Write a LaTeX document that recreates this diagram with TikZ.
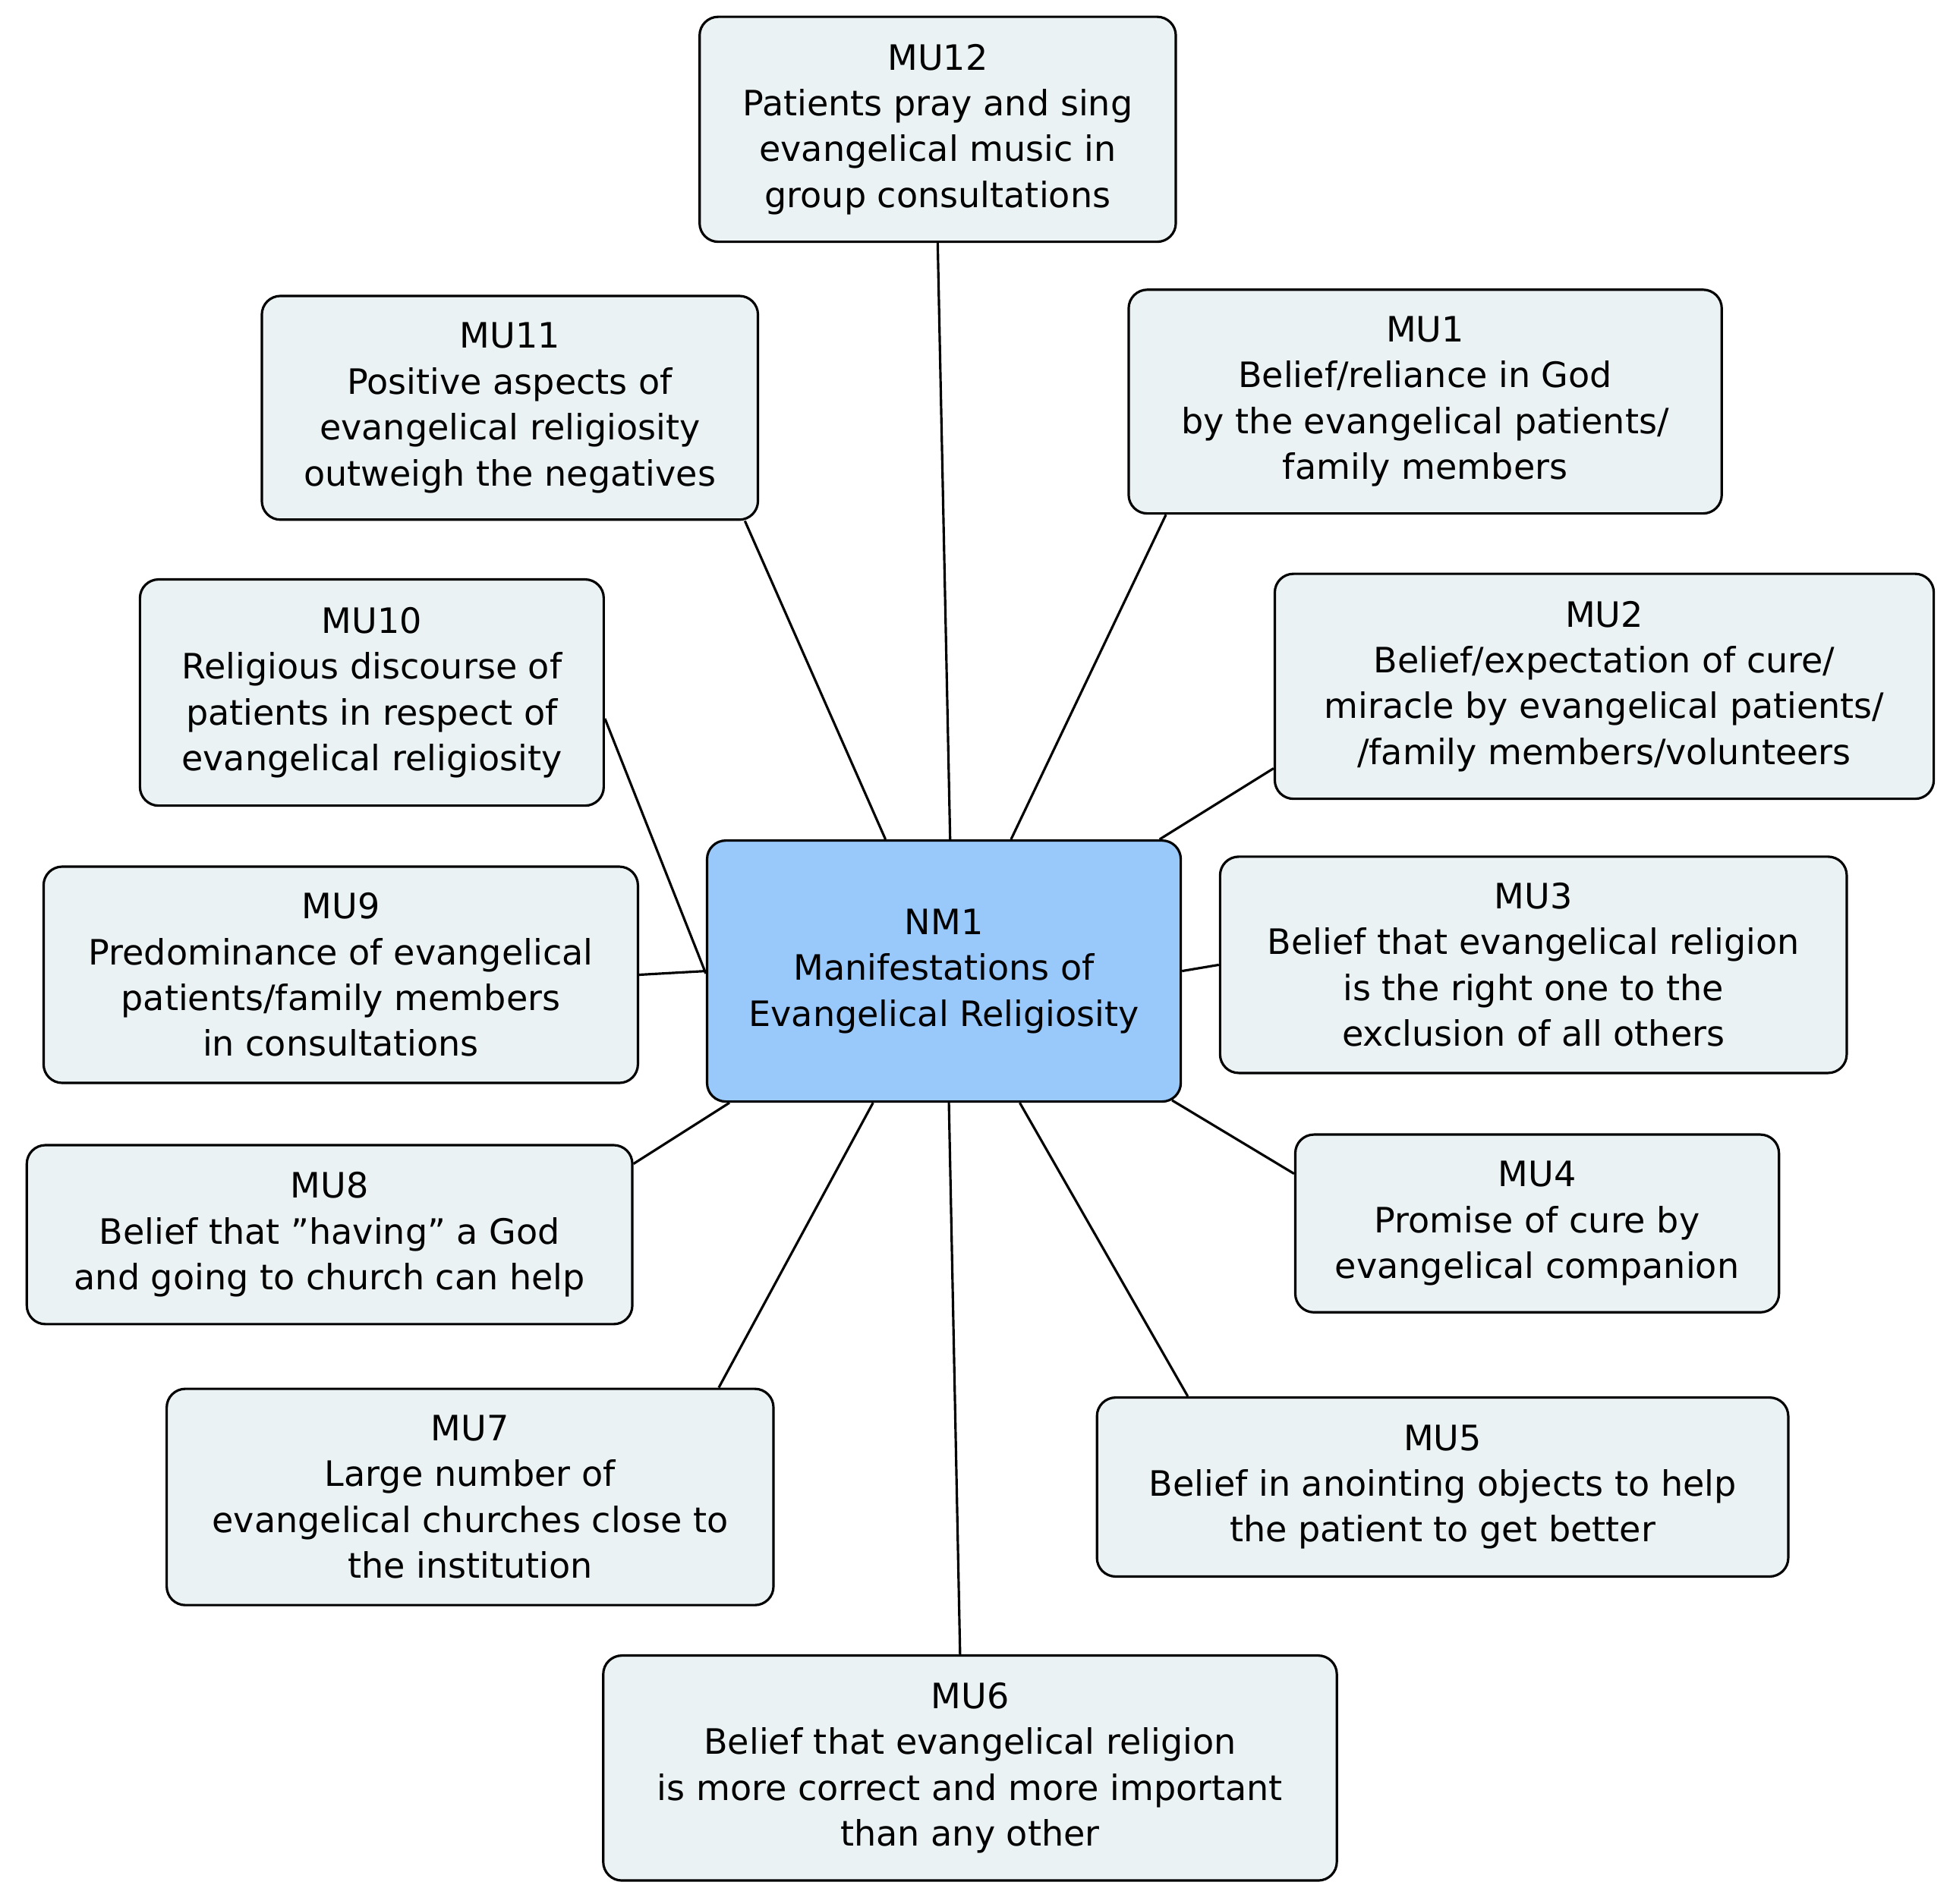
\documentclass[tikz,border=0pt]{standalone}
\usepackage{fontspec}
\setmainfont{DejaVu Sans}
\usetikzlibrary{calc,positioning}

\definecolor{mufill}{HTML}{EBF2F4}
\definecolor{nmfill}{HTML}{99C8FB}

\begin{document}
\begin{tikzpicture}[
        x=0.02cm, y=-0.02cm,
        mu/.style={rectangle, rounded corners=0.3cm, draw=black, line width=1.1pt, fill=mufill,
            align=center, inner sep=0pt, font=\fontsize{16}{21}\selectfont},
        nm/.style={mu, fill=nmfill},
        link/.style={draw=black, line width=1.1pt}
    ]
    \useasboundingbox (0,0) rectangle (1568,1531);
    % centre and its units
    \node[nm, minimum width=7.62cm, minimum height=4.2cm] (nm1) at (759,781) {NM1\\Manifestations of\\Evangelical Religiosity};
    \node[mu, minimum width=7.66cm, minimum height=3.62cm] (mu12) at (754,104) {MU12\\Patients pray and sing\\evangelical music in\\group consultations};
    \node[mu, minimum width=7.98cm, minimum height=3.6cm] (mu11) at (410,328) {MU11\\Positive aspects of\\evangelical religiosity\\outweigh the negatives};
    \node[mu, minimum width=9.54cm, minimum height=3.6cm] (mu1) at (1146,323) {MU1\\Belief/reliance in God\\by the evangelical patients/\\family members};
    \node[mu, minimum width=7.46cm, minimum height=3.64cm] (mu10) at (299,557) {MU10\\Religious discourse of\\patients in respect of\\evangelical religiosity};
    \node[mu, minimum width=10.6cm, minimum height=3.62cm] (mu2) at (1290,552) {MU2\\Belief/expectation of cure/\\miracle by evangelical patients/\\/family members/volunteers};
    \node[mu, minimum width=9.56cm, minimum height=3.48cm] (mu9) at (274,784) {MU9\\Predominance of evangelical\\patients/family members\\in consultations};
    \node[mu, minimum width=10.08cm, minimum height=3.48cm] (mu3) at (1233,776) {MU3\\Belief that evangelical religion\\is the right one to the\\exclusion of all others};
    \node[mu, minimum width=9.74cm, minimum height=2.88cm] (mu8) at (265,993) {MU8\\Belief that "having" a God\\and going to church can help};
    \node[mu, minimum width=7.78cm, minimum height=2.86cm] (mu4) at (1236,984) {MU4\\Promise of cure by\\evangelical companion};
    \node[mu, minimum width=9.76cm, minimum height=3.48cm] (mu7) at (378,1204) {MU7\\Large number of\\evangelical churches close to\\the institution};
    \node[mu, minimum width=11.12cm, minimum height=2.88cm] (mu5) at (1160,1196) {MU5\\Belief in anointing objects to help\\the patient to get better};
    \node[mu, minimum width=11.8cm, minimum height=3.62cm] (mu6) at (780,1422) {MU6\\Belief that evangelical religion\\is more correct and more important\\than any other};
    % connectors
    \draw[link] (mu12.south) -- ([xshift=0.1cm]nm1.north);
    \draw[link] ([xshift=3.78cm]mu11.south) -- ([xshift=-0.94cm]nm1.north);
    \draw[link] ([xshift=-4pt]mu1.south west) ++(0.76cm,0) -- ([xshift=1.08cm]nm1.north);
    \draw[link] ([yshift=-0.42cm]mu10.east) -- ([yshift=-2.16cm]nm1.north west);
    \draw[link] ([yshift=-1.32cm]mu2.west) -- ([xshift=-0.36cm]nm1.north east);
    \draw[link] (mu9.east) -- (nm1.west);
    \draw[link] (nm1.east) -- (mu3.west);
    \draw[link] ([yshift=1.14cm]mu8.east) -- ([xshift=0.38cm]nm1.south west);
    \draw[link] ([yshift=0.8cm]mu4.west) -- ([xshift=-0.16cm,yshift=0.04cm]nm1.south east);
    \draw[link] ([xshift=4cm]mu7.north) -- ([xshift=-1.14cm]nm1.south);
    \draw[link] ([xshift=1.48cm]mu5.north west) -- ([xshift=1.22cm]nm1.south);
    \draw[link] ([xshift=-0.16cm]mu6.north) -- ([xshift=0.08cm]nm1.south);
\end{tikzpicture}
\end{document}
